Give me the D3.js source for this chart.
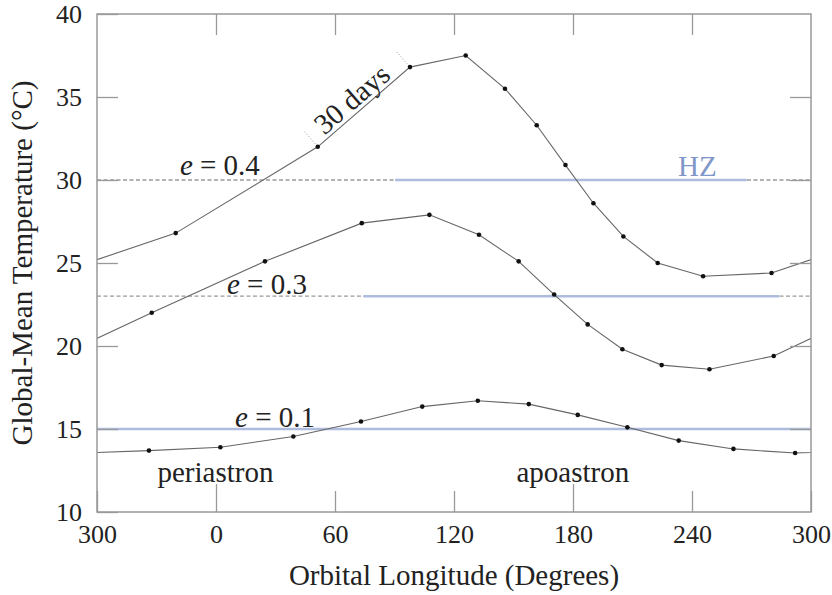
<!DOCTYPE html>
<html>
<head>
<meta charset="utf-8">
<script src="https://cdn.jsdelivr.net/npm/d3@7"></script>
<style>
  body { margin: 0; background: #fff; }
  svg text { font-family: "Liberation Serif", "Times New Roman", serif; fill: #222; }
</style>
</head>
<body>
<svg id="chart" width="832" height="595"></svg>
<script>
// axis ticks
var xTicks = [-60, 0, 60, 120, 180, 240, 300];
var xTickLabels = ["300", "0", "60", "120", "180", "240", "300"];
var yTicks = [10, 15, 20, 25, 30, 35, 40];

// orbital longitude (deg, shifted so 300 -> -60) and global-mean temperature
var lon04 = [-20.3, 51.3, 97.8, 125.9, 145.7, 161.7, 176.2, 190.3, 205.4, 222.7, 245.6, 280.1];
var temp04 = [26.8, 32.0, 36.8, 37.5, 35.5, 33.3, 30.9, 28.6, 26.6, 25.0, 24.2, 24.4];

var lon03 = [-32.4, 24.7, 73.5, 107.6, 132.6, 152.6, 170.5, 187.4, 204.9, 224.7, 248.8, 281.2];
var temp03 = [22.0, 25.1, 27.4, 27.9, 26.7, 25.1, 23.1, 21.3, 19.8, 18.85, 18.6, 19.4];

var lon01 = [-33.8, 2.2, 39.0, 73.1, 104.0, 132.0, 157.7, 182.4, 207.4, 233.3, 260.9, 292.0];
var temp01 = [13.7, 13.9, 14.55, 15.45, 16.35, 16.7, 16.5, 15.85, 15.1, 14.3, 13.8, 13.55];

// habitable zone reference levels and the longitudes where they are in the HZ
var hzTemp = [30, 23, 15];
var hzFrom = [90.3, 74.3, -60];
var hzTo = [267.6, 284.0, 300];
var eNames = ["0.4", "0.3", "0.1"];
var eLabelLon = [-18.2, 5.5, 9.6];

var svg = d3.select("#chart"),
    margin = {top: 14, right: 21, bottom: 83, left: 97},
    width = 832 - margin.left - margin.right,
    height = 595 - margin.top - margin.bottom;

var x = d3.scaleLinear().domain([-60, 300]).range([0, width]);
var y = d3.scaleLinear().domain([10, 40]).range([height, 0]);

var g = svg.append("g")
    .attr("transform", "translate(" + margin.left + "," + margin.top + ")");

g.append("clipPath").attr("id", "plotclip")
  .append("rect").attr("width", width).attr("height", height);

var plot = g.append("g").attr("clip-path", "url(#plotclip)");

// reference lines: grey dashed full width, blue where in the HZ
hzTemp.forEach(function (t, i) {
    plot.append("line")
        .attr("x1", x(-60)).attr("x2", x(300))
        .attr("y1", y(t)).attr("y2", y(t))
        .style("stroke", "#9a9a9a")
        .style("stroke-width", 1.3)
        .style("stroke-dasharray", "4,2.5");
    plot.append("line")
        .attr("x1", x(hzFrom[i])).attr("x2", x(hzTo[i]))
        .attr("y1", y(t)).attr("y2", y(t))
        .style("stroke", "#aebdde")
        .style("stroke-width", 2.6);
});

var line = d3.line()
    .x(function (d) { return x(d[0]); })
    .y(function (d) { return y(d[1]); });

function series(lons, temps) {
    var pts = lons.map(function (l, i) { return [l, temps[i]]; });
    var n = pts.length;
    // the orbit wraps, so repeat the neighbouring points one period away
    var wrapped = [[pts[n - 1][0] - 360, pts[n - 1][1]]].concat(pts, [[pts[0][0] + 360, pts[0][1]]]);
    plot.append("path")
        .datum(wrapped)
        .attr("d", line)
        .style("fill", "none")
        .style("stroke", "#666")
        .style("stroke-width", 1.1);
    plot.selectAll(null)
        .data(pts)
      .enter().append("circle")
        .attr("cx", function (d) { return x(d[0]); })
        .attr("cy", function (d) { return y(d[1]); })
        .attr("r", 2.3)
        .style("fill", "#111");
    return pts;
}

var pts04 = series(lon04, temp04);
series(lon03, temp03);
series(lon01, temp01);

// frame
g.append("rect")
    .attr("width", width).attr("height", height)
    .style("fill", "none")
    .style("stroke", "#999")
    .style("stroke-width", 1.5);

var xAxis = g.append("g")
    .attr("class", "axis")
    .attr("transform", "translate(0," + height + ")")
    .call(d3.axisBottom(x).tickValues(xTicks)
        .tickFormat(function (d, i) { return xTickLabels[i]; })
        .tickSize(-21).tickPadding(12.5));

// periastron / apoastron ticks are a bit longer
xAxis.selectAll(".tick line")
    .filter(function (d) { return d === 0 || d === 180; })
    .attr("y2", -28);

g.append("g")
    .attr("class", "axis")
    .call(d3.axisTop(x).tickValues(xTicks.slice(1, -1)).tickFormat("").tickSize(-21));

g.append("g")
    .attr("class", "axis")
    .call(d3.axisLeft(y).tickValues(yTicks).tickSize(-21).tickPadding(15));

g.append("g")
    .attr("class", "axis")
    .attr("transform", "translate(" + width + ",0)")
    .call(d3.axisRight(y).tickValues(yTicks.slice(1, -1)).tickFormat("").tickSize(-21));

g.selectAll(".axis .domain").remove();
g.selectAll(".axis .tick line").style("stroke", "#999").style("stroke-width", 1.3);
g.selectAll(".axis text")
    .style("font-size", "26px")
    .style("font-family", "'Liberation Serif', serif")
    .style("fill", "#222");

// eccentricity labels
hzTemp.forEach(function (t, i) {
    var lab = g.append("text")
        .attr("x", x(eLabelLon[i]))
        .attr("y", y(t) - (i === 0 ? 5 : 2.5))
        .style("font-size", "29px");
    lab.append("tspan").style("font-style", "italic").text("e");
    lab.append("tspan").text(" = " + eNames[i]);
});

g.append("text")
    .attr("x", x(233))
    .attr("y", y(30) - 4.5)
    .style("font-size", "29px")
    .style("fill", "#7f97c8")
    .text("HZ");

g.append("text")
    .attr("x", x(-29.5))
    .attr("y", y(11.8))
    .style("font-size", "29px")
    .text("periastron");

g.append("text")
    .attr("x", x(151.5))
    .attr("y", y(11.8))
    .style("font-size", "29px")
    .text("apoastron");

// "30 days" marker between two neighbouring model outputs
var p1 = [x(pts04[1][0]), y(pts04[1][1])],
    p2 = [x(pts04[2][0]), y(pts04[2][1])];
var ang = Math.atan2(p2[1] - p1[1], p2[0] - p1[0]);
var tx = Math.cos(ang), ty = Math.sin(ang);
var nx = ty, ny = -tx; // normal pointing up-left
[p1, p2].forEach(function (p) {
    g.append("line")
        .attr("x1", p[0] + nx * 4).attr("y1", p[1] + ny * 4)
        .attr("x2", p[0] + nx * 22).attr("y2", p[1] + ny * 22)
        .style("stroke", "#999")
        .style("stroke-width", 1)
        .style("stroke-dasharray", "1,2");
});
var mx = (p1[0] + p2[0]) / 2 + nx * 4 - tx * 4,
    my = (p1[1] + p2[1]) / 2 + ny * 4 - ty * 4;
g.append("text")
    .attr("transform", "translate(" + mx + "," + my + ")rotate(" + (ang * 180 / Math.PI) + ")")
    .attr("text-anchor", "middle")
    .style("font-size", "29px")
    .text("30 days");

// axis titles
svg.append("text")
    .attr("x", margin.left + width / 2)
    .attr("y", 585)
    .attr("text-anchor", "middle")
    .style("font-size", "29px")
    .text("Orbital Longitude (Degrees)");

svg.append("text")
    .attr("transform", "translate(32," + (margin.top + height / 2) + ")rotate(-90)")
    .attr("text-anchor", "middle")
    .style("font-size", "29px")
    .text("Global-Mean Temperature (°C)");
</script>
</body>
</html>
